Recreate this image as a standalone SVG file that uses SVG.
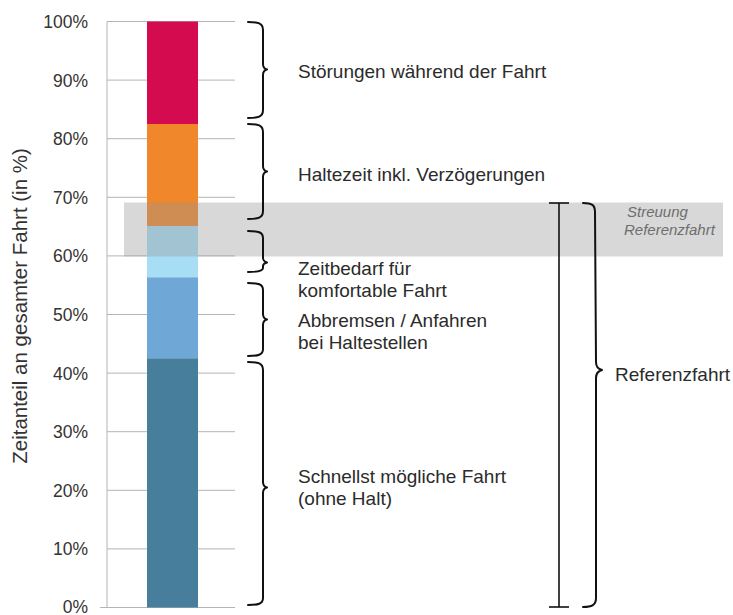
<svg xmlns="http://www.w3.org/2000/svg" width="733" height="615" viewBox="0 0 733 615">
<style>
.grid{stroke:#b4b4b4;stroke-width:1;fill:none}
.tick{font-family:"Liberation Sans",Arial,sans-serif;font-size:17.5px;fill:#333;text-anchor:end}
.title{font-family:"Liberation Sans",Arial,sans-serif;font-size:20.5px;fill:#333;text-anchor:middle}
.lbl{font-family:"Liberation Sans",Arial,sans-serif;font-size:19px;fill:#2b2b2b}
.note{font-family:"Liberation Sans",Arial,sans-serif;font-size:15px;font-style:italic;fill:#6e6e6e}
.brace{fill:none;stroke:#111;stroke-width:2;stroke-linecap:round;stroke-linejoin:round}
.err{fill:none;stroke:#111;stroke-width:1.6}
</style>
<rect width="733" height="615" fill="#fff"/>
<g id="axis">
<line class="grid" x1="107" y1="21.5" x2="107" y2="607.5"/>
<line class="grid" x1="107" y1="21.5" x2="235" y2="21.5"/>
<line class="grid" x1="107" y1="80.1" x2="235" y2="80.1"/>
<line class="grid" x1="107" y1="138.7" x2="235" y2="138.7"/>
<line class="grid" x1="107" y1="197.3" x2="235" y2="197.3"/>
<line class="grid" x1="107" y1="255.9" x2="235" y2="255.9"/>
<line class="grid" x1="107" y1="314.5" x2="235" y2="314.5"/>
<line class="grid" x1="107" y1="373.1" x2="235" y2="373.1"/>
<line class="grid" x1="107" y1="431.7" x2="235" y2="431.7"/>
<line class="grid" x1="107" y1="490.3" x2="235" y2="490.3"/>
<line class="grid" x1="107" y1="548.9" x2="235" y2="548.9"/>
<line class="grid" x1="100" y1="607.5" x2="235" y2="607.5"/>
<text class="tick" x="88" y="28">100%</text>
<text class="tick" x="88" y="86.6">90%</text>
<text class="tick" x="88" y="145.2">80%</text>
<text class="tick" x="88" y="203.8">70%</text>
<text class="tick" x="88" y="262.4">60%</text>
<text class="tick" x="88" y="321">50%</text>
<text class="tick" x="88" y="379.6">40%</text>
<text class="tick" x="88" y="438.2">30%</text>
<text class="tick" x="88" y="496.8">20%</text>
<text class="tick" x="88" y="555.4">10%</text>
<text class="tick" x="88" y="612.5">0%</text>
<text class="title" transform="translate(27,306) rotate(-90)">Zeitanteil an gesamter Fahrt (in %)</text>
</g>
<g id="bar">
<g id="seg-stoerungen"><rect x="147" y="21.5" width="51" height="102.5" fill="#d50b50"/></g>
<g id="seg-haltezeit"><rect x="147" y="124" width="51" height="102" fill="#f0872a"/></g>
<g id="seg-komfort"><rect x="147" y="226" width="51" height="51.3" fill="#a8ddf6"/></g>
<g id="seg-abbremsen"><rect x="147" y="277.3" width="51" height="81" fill="#6fa8d6"/></g>
<g id="seg-schnellst"><rect x="147" y="358.3" width="51" height="249.2" fill="#467e9c"/></g>
</g>
<g id="band">
<rect x="124" y="202.5" width="599" height="54" fill="#999" fill-opacity="0.38"/>
<text class="note" x="627" y="217">Streuung</text>
<text class="note" x="624" y="235">Referenzfahrt</text>
</g>
<g id="connectors">
<path class="brace" d="M248,22 C258,22 263,23 263,30 L263,64 C263,67 265,69 267,69.5 C265,70 263,72 263,75 L263,110 C263,117 258,118 248,118"/>
<path class="brace" d="M248,124 C258,124 263,125 263,132 L263,166 C263,169 265,171 267,171.5 C265,172 263,174 263,177 L263,211 C263,218 258,219 248,219"/>
<path class="brace" d="M248,231 C258,231 263,232 263,238 L263,258 C263,260 265,262 267,262.5 C265,263 263,264 263,266 L263,268 C263,271 258,272 248,272"/>
<path class="brace" d="M248,283 C258,283 263,284 263,290 L263,314 C263,317 265,319 267,319.5 C265,320 263,322 263,325 L263,349 C263,355 258,356 248,356"/>
<path class="brace" d="M248,362 C258,362 263,363 263,370 L263,482 C263,485 265,487 267,487.5 C265,488 263,490 263,493 L263,598 C263,604 258,605 248,605"/>
<path class="brace" d="M583,203 C592,203 595,205 595,212 L596,362 C596,366 598,369 602,370 C598,371 596,374 596,378 L596,598 C596,605 592,607 583,607"/>
<g id="errorbar">
<line class="err" x1="559" y1="203" x2="559" y2="607"/>
<line class="err" x1="549" y1="203" x2="569" y2="203"/>
<line class="err" x1="549" y1="607" x2="569" y2="607"/>
</g>
</g>
<g id="label-stoerungen"><text class="lbl" x="298" y="78">Störungen während der Fahrt</text></g>
<g id="label-haltezeit"><text class="lbl" x="298" y="181">Haltezeit inkl. Verzögerungen</text></g>
<g id="label-komfort"><text class="lbl" x="298" y="275">Zeitbedarf für</text><text class="lbl" x="298" y="297">komfortable Fahrt</text></g>
<g id="label-abbremsen"><text class="lbl" x="298" y="327">Abbremsen / Anfahren</text><text class="lbl" x="298" y="349">bei Haltestellen</text></g>
<g id="label-schnellst"><text class="lbl" x="298" y="483">Schnellst mögliche Fahrt</text><text class="lbl" x="298" y="505">(ohne Halt)</text></g>
<g id="label-referenz"><text class="lbl" x="615" y="381">Referenzfahrt</text></g>
</svg>
